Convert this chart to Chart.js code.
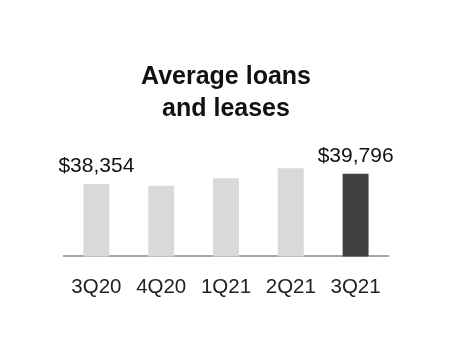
<!DOCTYPE html>
<html>
<head>
<meta charset="utf-8">
<script src="https://cdn.jsdelivr.net/npm/chart.js@4/dist/chart.umd.min.js"></script>
<style>
  html, body { margin: 0; padding: 0; background: #fff; }
  #wrap { width: 452px; height: 360px; }
</style>
</head>
<body>
<div id="wrap"><canvas id="canvas" width="452" height="360"></canvas></div>
<script>
  // data ($ millions)
  var quarters = ['3Q20', '4Q20', '1Q21', '2Q21', '3Q21'];
  var avgLoans = [38354, 38070, 39170, 40600, 39796];
  var showValue = [true, false, false, false, true];
  var barColors = ['#d9d9d9', '#d9d9d9', '#d9d9d9', '#d9d9d9', '#404040'];

  const FONT = "'Liberation Sans', Arial, sans-serif";

  // value labels above first and last bar
  const valueLabels = {
    id: 'valueLabels',
    afterDatasetsDraw(chart) {
      const c = chart.ctx;
      const meta = chart.getDatasetMeta(0);
      c.save();
      c.font = '21px ' + FONT;
      c.fillStyle = '#111';
      c.textAlign = 'center';
      c.textBaseline = 'alphabetic';
      meta.data.forEach(function(bar, i) {
        if (!showValue[i]) return;
        c.fillText('$' + avgLoans[i].toLocaleString('en-US'), bar.x, bar.y - 12);
      });
      c.restore();
    }
  };

  const ctx = document.getElementById('canvas').getContext('2d');
  const chart = new Chart(ctx, {
    type: 'bar',
    data: {
      labels: quarters,
      datasets: [{
        data: avgLoans,
        backgroundColor: barColors,
        barPercentage: 0.4,
        categoryPercentage: 1.0,
        borderWidth: 0
      }]
    },
    options: {
      responsive: false,
      animation: false,
      layout: { padding: { top: 61, left: 64, right: 64, bottom: 41 } },
      plugins: {
        legend: { display: false },
        tooltip: { enabled: false },
        title: {
          display: true,
          text: ['Average loans', 'and leases'],
          color: '#111',
          font: { family: FONT, size: 25, weight: 'bold', lineHeight: 1.28 },
          padding: { top: 0, bottom: 7 }
        }
      },
      scales: {
        y: { display: false, min: 28000, max: 45760 },
        x: {
          grid: { display: false, drawTicks: false },
          border: { display: true, color: '#a6a6a6', width: 2 },
          ticks: { color: '#222', padding: 19, font: { family: FONT, size: 20.5 } }
        }
      }
    },
    plugins: [valueLabels]
  });
</script>
</body>
</html>
